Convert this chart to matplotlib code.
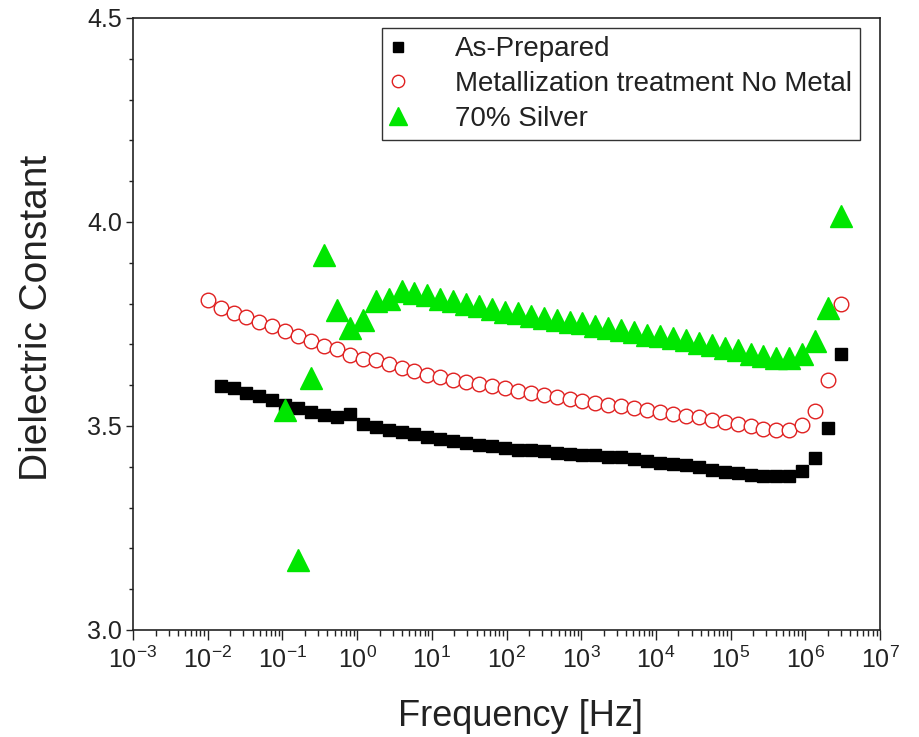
import matplotlib
matplotlib.use("Agg")
import matplotlib.pyplot as plt
from matplotlib.ticker import LogLocator, NullFormatter, MultipleLocator

plt.rcParams['font.family'] = ['Liberation Sans', 'DejaVu Sans']
plt.rcParams['mathtext.fontset'] = 'custom'
plt.rcParams['mathtext.rm'] = 'Liberation Sans'
plt.rcParams['mathtext.it'] = 'Liberation Sans'

# Frequency grid [Hz]
freq = [0.0100, 0.0149, 0.0222, 0.0330, 0.0492, 0.0733, 0.109, 0.163, 0.242, 0.361,
        0.537, 0.800, 1.19, 1.77, 2.64, 3.94, 5.86, 8.73, 13.0, 19.4,
        28.8, 43.0, 64.0, 95.3, 142, 211, 315, 469, 698, 1040,
        1550, 2310, 3440, 5120, 7620, 11350, 16900, 25200, 37500, 55800,
        83200, 124000, 185000, 275000, 409000, 610000, 908000, 1.35e6, 2.01e6, 3.00e6]

# As-Prepared (starts at 2nd frequency)
as_prepared = [3.598, 3.593, 3.582, 3.574, 3.564, 3.551, 3.544, 3.534, 3.528,
               3.522, 3.529, 3.506, 3.497, 3.491, 3.485, 3.480, 3.474, 3.468, 3.463,
               3.458, 3.453, 3.450, 3.446, 3.442, 3.440, 3.439, 3.435, 3.431, 3.430,
               3.428, 3.425, 3.423, 3.418, 3.413, 3.409, 3.407, 3.404, 3.400, 3.393,
               3.388, 3.385, 3.381, 3.377, 3.377, 3.377, 3.390, 3.422, 3.495, 3.676]

# Metallization treatment No Metal
no_metal = [3.809, 3.789, 3.778, 3.768, 3.755, 3.745, 3.733, 3.721, 3.708, 3.697,
            3.688, 3.675, 3.665, 3.661, 3.653, 3.643, 3.634, 3.625, 3.619, 3.613,
            3.607, 3.602, 3.597, 3.592, 3.586, 3.580, 3.576, 3.571, 3.566, 3.561,
            3.556, 3.551, 3.548, 3.543, 3.539, 3.534, 3.529, 3.525, 3.521, 3.515,
            3.510, 3.506, 3.499, 3.493, 3.490, 3.490, 3.502, 3.537, 3.613, 3.799]

# 70% Silver (starts at 7th frequency)
silver = [3.540, 3.172, 3.618, 3.919, 3.784, 3.739, 3.760, 3.806, 3.811, 3.831,
          3.825, 3.820, 3.812, 3.806, 3.798, 3.794, 3.786, 3.780, 3.776, 3.770,
          3.764, 3.760, 3.756, 3.752, 3.745, 3.739, 3.735, 3.731, 3.723, 3.721,
          3.715, 3.711, 3.704, 3.699, 3.691, 3.686, 3.677, 3.671, 3.667, 3.667,
          3.677, 3.708, 3.789, 4.015]

labels = ['As-Prepared', 'Metallization treatment No Metal', '70% Silver']

fig = plt.figure(figsize=(9.2, 7.37), dpi=100)
ax = fig.add_axes([0.1446, 0.1452, 0.8119, 0.8304])

f_ap = freq[len(freq) - len(as_prepared):]
f_ag = freq[len(freq) - len(silver):]

ax.plot(f_ap, as_prepared, linestyle='none', marker='s', markersize=8.3,
        color='black', label=labels[0])
ax.plot(freq, no_metal, linestyle='none', marker='o', markersize=10.5,
        markerfacecolor='white', markeredgecolor='#e02020', markeredgewidth=1.0,
        label=labels[1])
ax.plot(f_ag, silver, linestyle='none', marker='^', markersize=16,
        color='#00e600', label=labels[2])

ax.set_xscale('log')
ax.set_xlim(1e-3, 1e7)
ax.set_ylim(3.0, 4.5)

ax.xaxis.set_major_locator(LogLocator(base=10, numticks=20))
ax.xaxis.set_minor_locator(LogLocator(base=10, subs=range(2, 10), numticks=200))
ax.xaxis.set_minor_formatter(NullFormatter())
ax.yaxis.set_major_locator(MultipleLocator(0.5))
ax.yaxis.set_minor_locator(MultipleLocator(0.1))
ax.yaxis.set_major_formatter(plt.FuncFormatter(lambda v, p: f"{v:.1f}"))

ax.tick_params(which='both', direction='out', top=False, right=False,
               labelsize=18, colors='#222222')
ax.tick_params(axis='x', which='major', length=7, width=1.0, pad=5)
ax.tick_params(axis='x', which='minor', length=4, width=1.0)
ax.tick_params(axis='y', which='major', length=5, width=1.0, pad=3)
ax.tick_params(axis='y', which='minor', length=3, width=1.0)
for s in ax.spines.values():
    s.set_linewidth(1.2)
    s.set_color('#222222')

ax.set_xlabel('Frequency [Hz]', fontsize=26, color='#222222')
ax.xaxis.set_label_coords(0.519, -0.112)
ax.set_ylabel('Dielectric Constant', fontsize=28, color='#222222')
ax.yaxis.set_label_coords(-0.104, 0.51)

leg = ax.legend(loc='upper right', bbox_to_anchor=(0.9732, 0.9837), fontsize=20,
                frameon=True, fancybox=False, edgecolor='black', markerscale=0.85,
                handlelength=0.5, handletextpad=1.8, borderpad=0.3, labelspacing=0.32,
                borderaxespad=0.0)
leg.get_frame().set_linewidth(1.0)
for t in leg.get_texts():
    t.set_color('#222222')

fig.savefig('out.png', dpi=100)
